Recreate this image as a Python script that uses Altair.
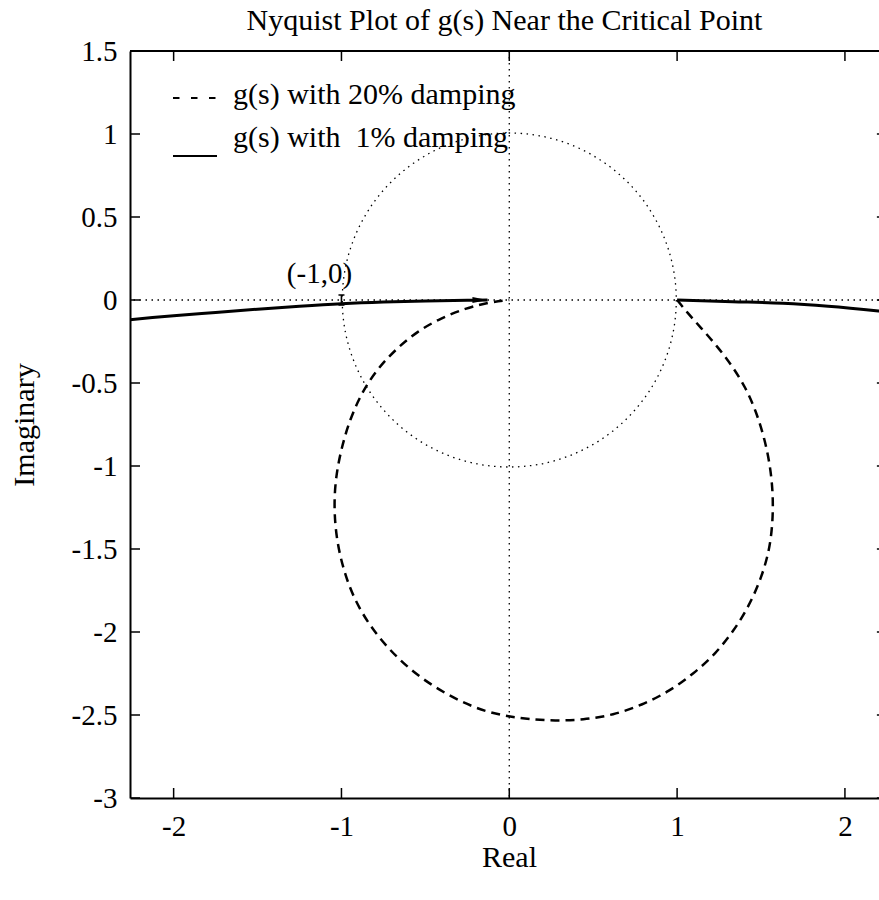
import altair as alt
import pandas as pd

# ---------------- data ----------------
title_text = "Nyquist Plot of g(s) Near the Critical Point"

# g(s) with 20% damping (dashed), traced from (1,0) clockwise back to the origin
damp20_re = [1.00, 1.06, 1.14, 1.24, 1.33, 1.41, 1.47, 1.52, 1.555, 1.572,
             1.57, 1.55, 1.50, 1.43, 1.34, 1.23, 1.10, 0.95, 0.79, 0.62,
             0.44, 0.27, 0.12, 0.00, -0.14, -0.29, -0.45, -0.60, -0.73, -0.84,
             -0.93, -0.99, -1.03, -1.045, -1.035, -1.00, -0.95, -0.88, -0.79, -0.68,
             -0.55, -0.41, -0.26, -0.12, 0.00]
damp20_im = [0.00, -0.075, -0.165, -0.28, -0.40, -0.53, -0.67, -0.83, -1.00, -1.17,
             -1.34, -1.51, -1.68, -1.84, -1.99, -2.13, -2.25, -2.36, -2.44, -2.50,
             -2.53, -2.535, -2.525, -2.51, -2.48, -2.42, -2.33, -2.22, -2.09, -1.95,
             -1.79, -1.62, -1.44, -1.25, -1.07, -0.89, -0.72, -0.56, -0.42, -0.30,
             -0.19, -0.11, -0.05, -0.013, 0.00]

# g(s) with 1% damping (solid): the two pieces visible near the real axis
damp1_right_re = [1.00, 1.33, 1.63, 1.90, 2.20, 2.30]
damp1_right_im = [0.00, -0.010, -0.020, -0.038, -0.066, -0.077]
damp1_left_re = [-2.30, -2.00, -1.75, -1.50, -1.25, -1.00, -0.75, -0.50, -0.25, -0.13]
damp1_left_im = [-0.122, -0.095, -0.075, -0.055, -0.037, -0.022, -0.012, -0.006, -0.002, 0.0]

critical_point = [-1.0, 0.0]
critical_label = "(-1,0)"
unit_circle_center = [0.0, 0.0]

x_ticks = [-2, -1, 0, 1, 2]
y_ticks = [1.5, 1, 0.5, 0, -0.5, -1, -1.5, -2, -2.5, -3]
x_range = [-2.26, 2.203]   # right side of the original frame is cut off
y_range = [-3.0, 1.5]
x_frame_right = 2.25

legend_labels = ["g(s) with 20% damping", "g(s) with\u00a0 1% damping"]

# ---------------- styling ----------------
FONT = "Liberation Serif"
W, H = 749, 747

xs = alt.Scale(domain=x_range, nice=False, zero=False)
ys = alt.Scale(domain=y_range, nice=False, zero=False)
fix_minus = "replace(datum.label, '\u2212', '-')"

xaxis = alt.Axis(values=x_ticks, format="~g", ticks=False, tickSize=0, grid=False,
                 domain=True, domainColor="black", domainWidth=2,
                 labelFont=FONT, labelFontSize=29, labelColor="black",
                 labelPadding=14, labelExpr=fix_minus, labelFlush=False,
                 title="Real", titleFont=FONT, titleFontSize=30,
                 titleFontWeight="normal", titleColor="black",
                 titleX=379, titleY=68, titleAlign="center",
                 titleBaseline="alphabetic", titleAngle=0)
yaxis = alt.Axis(values=y_ticks, format="~g", ticks=False, tickSize=0, grid=False,
                 domain=True, domainColor="black", domainWidth=2,
                 labelFont=FONT, labelFontSize=29, labelColor="black",
                 labelPadding=13, labelExpr=fix_minus, labelFlush=False,
                 title="Imaginary", titleFont=FONT, titleFontSize=30,
                 titleFontWeight="normal", titleColor="black",
                 titleX=-97, titleY=373.5, titleAngle=270, titleAlign="center",
                 titleBaseline="alphabetic")


def X(field):
    return alt.X(field, type="quantitative", scale=xs, axis=xaxis)


def Y(field):
    return alt.Y(field, type="quantitative", scale=ys, axis=yaxis)


def XD(v):
    return alt.XDatum(v, type="quantitative", scale=xs, axis=xaxis)


def YD(v):
    return alt.YDatum(v, type="quantitative", scale=ys, axis=yaxis)


DOT = [1.5, 4.5]

df20 = pd.DataFrame({"re": damp20_re, "im": damp20_im, "i": range(len(damp20_re))})
df1r = pd.DataFrame({"re": damp1_right_re, "im": damp1_right_im, "i": range(len(damp1_right_re))})
df1l = pd.DataFrame({"re": damp1_left_re, "im": damp1_left_im, "i": range(len(damp1_left_re))})
df_tip = pd.DataFrame({"re": [damp1_left_re[-1]], "im": [damp1_left_im[-1]]})
df_crit = pd.DataFrame({"re": [critical_point[0]], "im": [critical_point[1]]})
df_center = pd.DataFrame({"re": [unit_circle_center[0]], "im": [unit_circle_center[1]]})
df_xt = pd.DataFrame({"t": x_ticks})
df_yt = pd.DataFrame({"t": y_ticks})
df_one = pd.DataFrame({"k": [0]})

# dotted real / imaginary axes
vline = alt.Chart(df_one).mark_rule(color="black", strokeWidth=1.3, strokeDash=DOT).encode(x=XD(0))
hline = alt.Chart(df_one).mark_rule(color="black", strokeWidth=1.3, strokeDash=DOT).encode(y=YD(0))

# dotted unit circle
circle = alt.Chart(df_center).mark_point(
    shape="circle", size=(2 * 167) ** 2, filled=False, stroke="black",
    strokeWidth=1.3, strokeDash=DOT, opacity=1
).encode(x=X("re"), y=Y("im"))

dashed = alt.Chart(df20).mark_line(
    color="black", strokeWidth=2.5, strokeDash=[9, 6], interpolate="basis", clip=True
).encode(x=X("re"), y=Y("im"), order="i:Q")

solid_r = alt.Chart(df1r).mark_line(
    color="black", strokeWidth=3, interpolate="catmull-rom", clip=True
).encode(x=X("re"), y=Y("im"), order="i:Q")
solid_l = alt.Chart(df1l).mark_line(
    color="black", strokeWidth=3, interpolate="catmull-rom", clip=True
).encode(x=X("re"), y=Y("im"), order="i:Q")

arrow = alt.Chart(df_tip).mark_point(
    shape="M-2,-0.4L0,0L-2,0.4Z", size=225, filled=True, color="black", opacity=1
).encode(x=X("re"), y=Y("im"))

crit_mark = alt.Chart(df_crit).mark_point(
    shape="M-0.6,-1H0.6M0,-1V1M-0.6,1H0.6", size=100, filled=False,
    stroke="black", strokeWidth=1.6, opacity=1
).encode(x=X("re"), y=Y("im"))
crit_text = alt.Chart(df_crit).mark_text(
    text=critical_label, font=FONT, fontSize=29, color="black",
    align="center", baseline="alphabetic", dx=-22, dy=-17.5
).encode(x=X("re"), y=Y("im"))

# frame: top border + inward ticks on all four sides
top_border = alt.Chart(df_one).mark_rule(color="black", strokeWidth=2).encode(y=YD(y_range[1]))
tick_kw = dict(color="black", thickness=1.5, size=20, clip=True, opacity=1)
ticks_bottom = alt.Chart(df_xt).mark_tick(orient="vertical", **tick_kw).encode(
    x=X("t"), y=YD(y_range[0]))
ticks_top = alt.Chart(df_xt).mark_tick(orient="vertical", **tick_kw).encode(
    x=X("t"), y=YD(y_range[1]))
ticks_left = alt.Chart(df_yt).mark_tick(orient="horizontal", **tick_kw).encode(
    y=Y("t"), x=XD(x_range[0]))
ticks_right = alt.Chart(df_yt).mark_tick(orient="horizontal", **tick_kw).encode(
    y=Y("t"), x=XD(x_frame_right))

# in-plot legend
leg_dash = alt.Chart(df_one).mark_rule(color="black", strokeWidth=2, strokeDash=[6.5, 11.5]).encode(
    x=alt.value(43), x2=alt.value(85.5), y=alt.value(47))
leg_solid = alt.Chart(df_one).mark_rule(color="black", strokeWidth=2).encode(
    x=alt.value(43), x2=alt.value(87), y=alt.value(105))
leg_t1 = alt.Chart(pd.DataFrame({"label": [legend_labels[0]]})).mark_text(
    font=FONT, fontSize=30, color="black", align="left", baseline="alphabetic"
).encode(text="label:N", x=alt.value(103), y=alt.value(53))
leg_t2 = alt.Chart(pd.DataFrame({"label": [legend_labels[1]]})).mark_text(
    font=FONT, fontSize=30, color="black", align="left", baseline="alphabetic"
).encode(text="label:N", x=alt.value(103), y=alt.value(96))

chart = alt.layer(
    vline, hline, circle, dashed, solid_r, solid_l, arrow, crit_mark, crit_text,
    top_border, ticks_bottom, ticks_top, ticks_left, ticks_right,
    leg_dash, leg_solid, leg_t1, leg_t2
).properties(
    width=W, height=H,
    title=alt.TitleParams(text=title_text, font=FONT, fontSize=30, fontWeight="normal",
                          color="black", anchor="middle", offset=1),
    autosize=alt.AutoSizeParams(type="none"),
    padding={"left": 130, "top": 51, "right": 0, "bottom": 100},
    background="white",
).configure_view(stroke=None)

chart.save("out.html", embed_options={"renderer": "svg", "actions": False})
